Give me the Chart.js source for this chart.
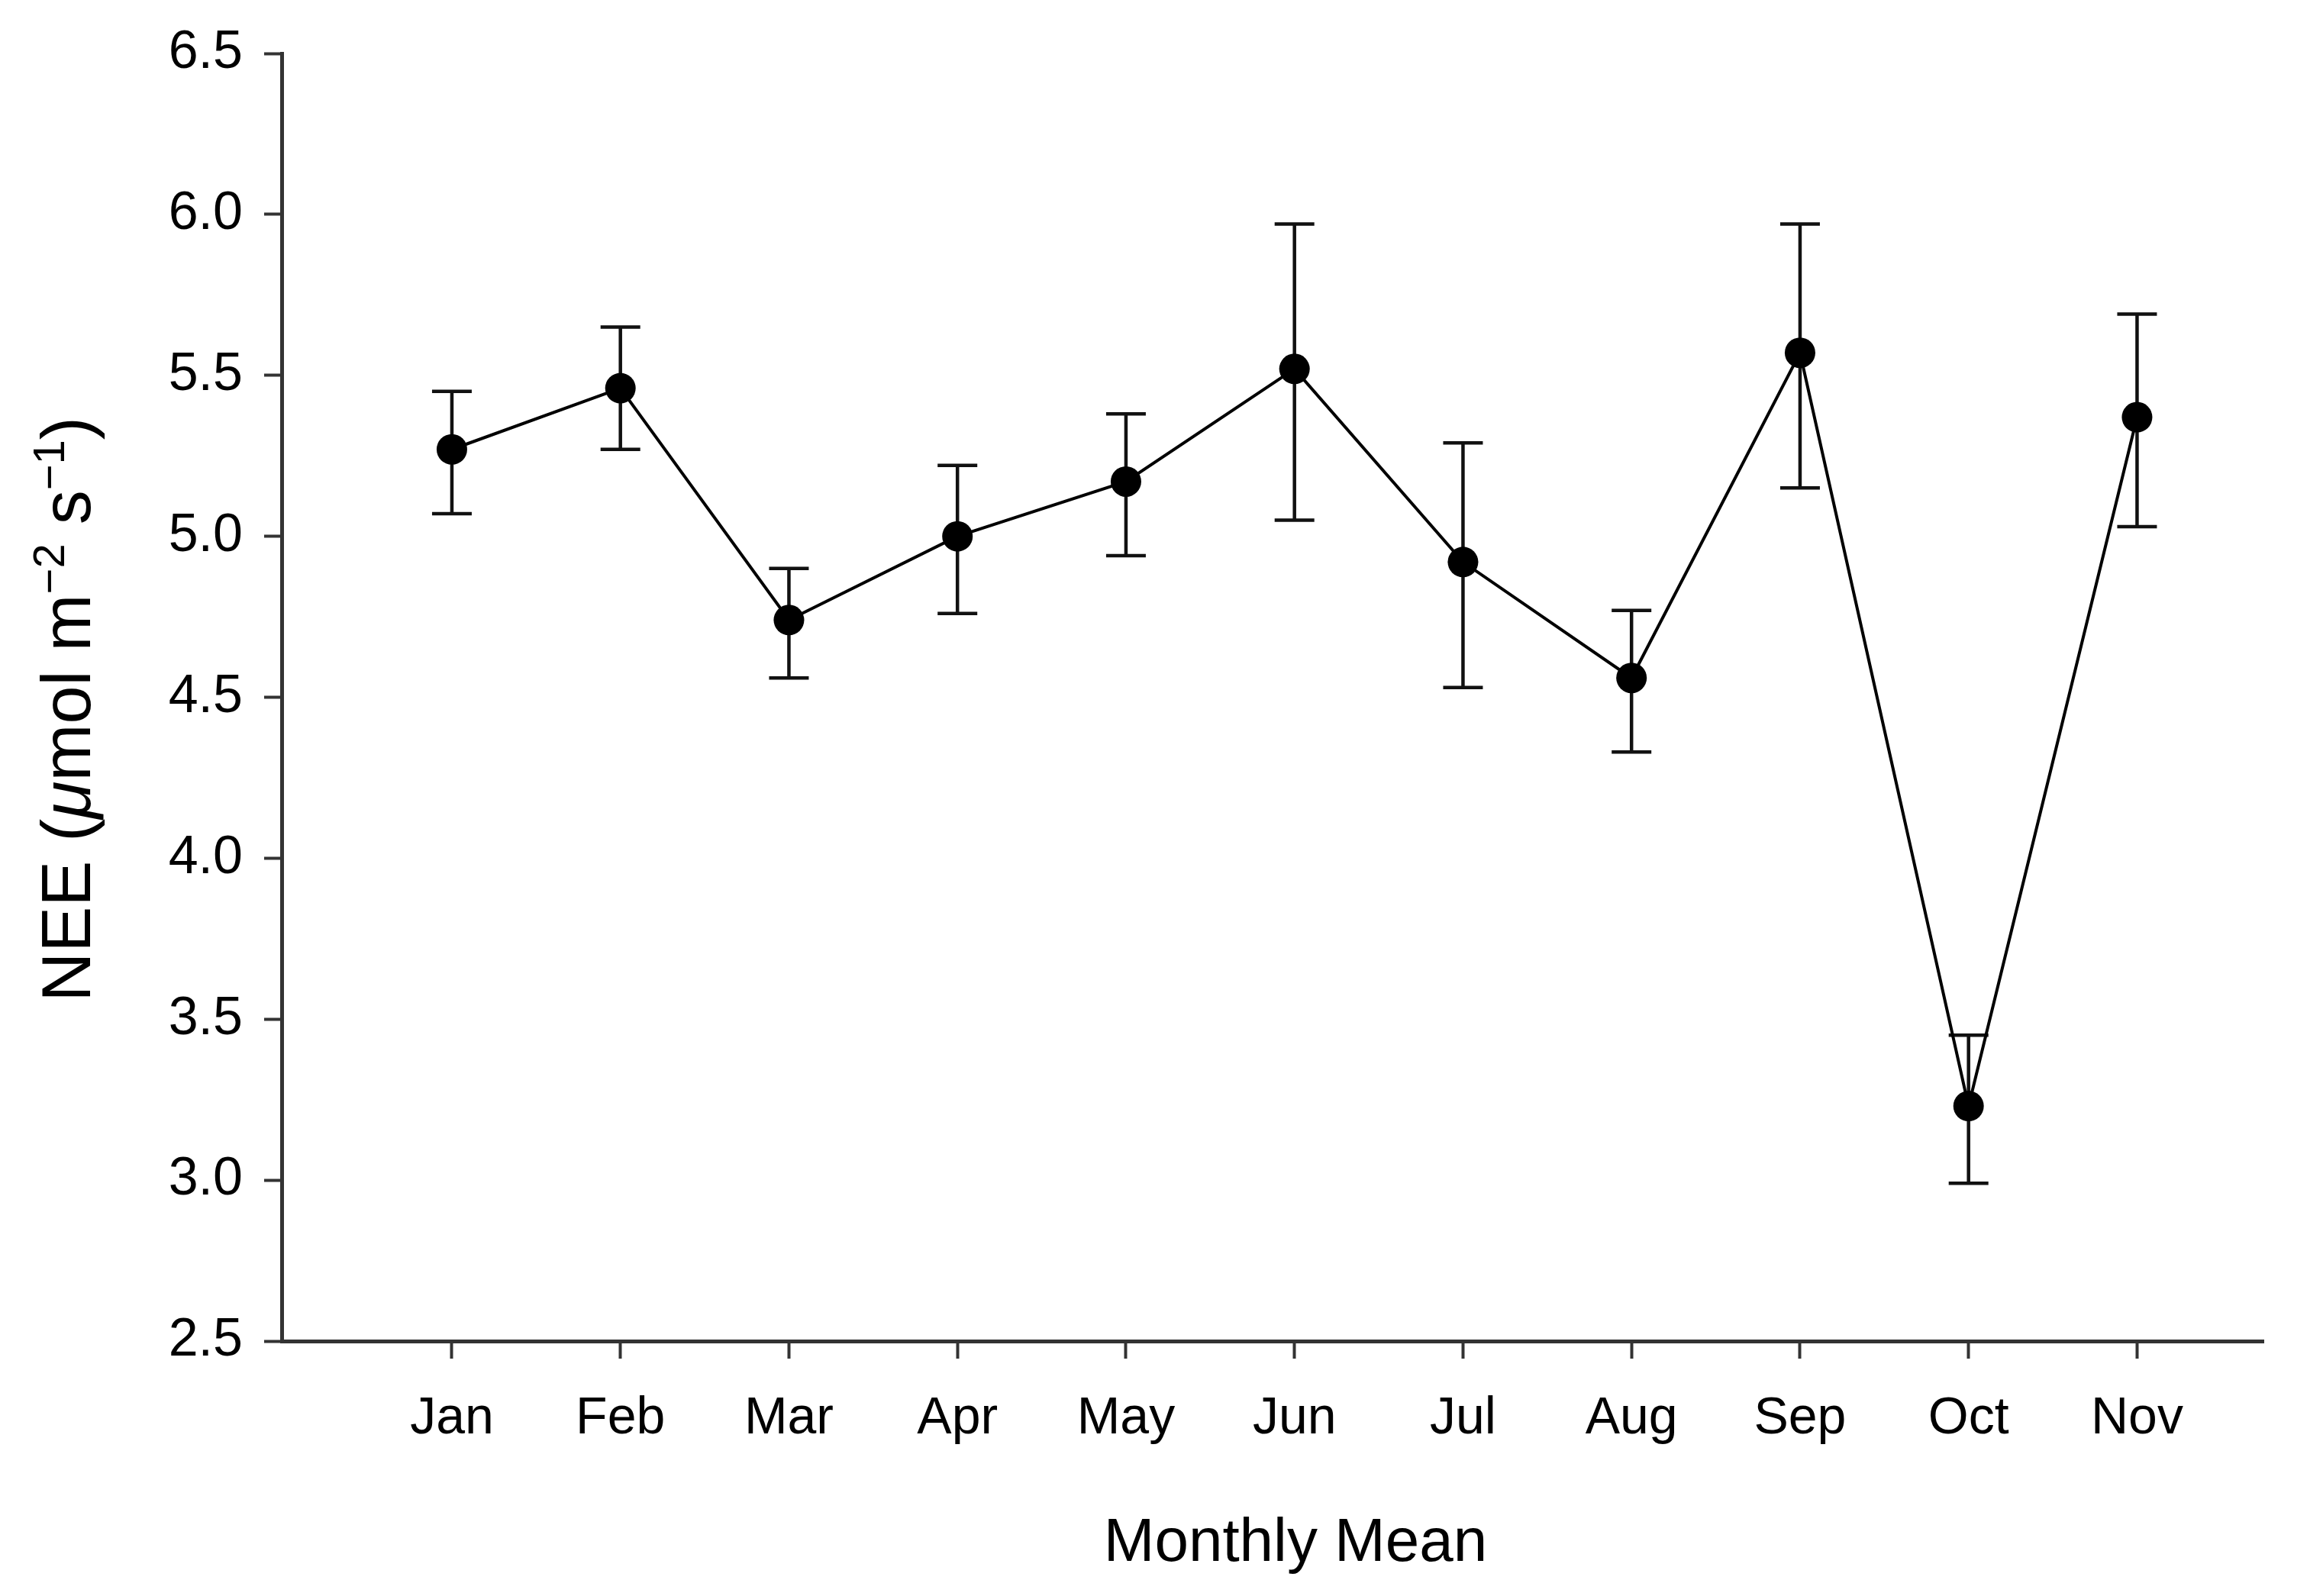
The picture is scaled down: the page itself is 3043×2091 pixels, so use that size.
<!DOCTYPE html>
<html>
<head>
<meta charset="utf-8">
<script src="https://cdn.jsdelivr.net/npm/chart.js@4.4.1/dist/chart.umd.min.js"></script>
<style>
  html, body { margin: 0; padding: 0; background: #ffffff; }
  #wrap { width: 3043px; height: 2091px; position: relative; }
</style>
</head>
<body>
<div id="wrap"><canvas id="c"></canvas></div>
<script>
// ---- data ----
const months   = ['Jan','Feb','Mar','Apr','May','Jun','Jul','Aug','Sep','Oct','Nov'];
const neeMean  = [5.27, 5.46, 4.74, 5.00, 5.17, 5.52, 4.92, 4.56, 5.57, 3.23, 5.37];
const neeUpper = [5.45, 5.65, 4.90, 5.22, 5.38, 5.97, 5.29, 4.77, 5.97, 3.45, 5.69];
const neeLower = [5.07, 5.27, 4.56, 4.76, 4.94, 5.05, 4.53, 4.33, 5.15, 2.99, 5.03];
const yTicks   = [2.5, 3.0, 3.5, 4.0, 4.5, 5.0, 5.5, 6.0, 6.5];
const xTitle   = 'Monthly Mean';

const FONT = "'Liberation Sans', Arial, Helvetica, sans-serif";
const INK = '#000000';
const AXIS = '#333333';

const points = neeMean.map((v, i) => ({ x: i, y: v }));

const errorBars = {
  id: 'errorBars',
  beforeDatasetsDraw(chart) {
    const { ctx, scales: { x, y } } = chart;
    ctx.save();
    ctx.strokeStyle = '#111111';
    ctx.lineWidth = 4.5;
    const half = 26;
    neeMean.forEach((m, i) => {
      const px = x.getPixelForValue(i);
      const yt = y.getPixelForValue(neeUpper[i]);
      const yb = y.getPixelForValue(neeLower[i]);
      ctx.beginPath();
      ctx.moveTo(px, yt); ctx.lineTo(px, yb);
      ctx.moveTo(px - half, yt); ctx.lineTo(px + half, yt);
      ctx.moveTo(px - half, yb); ctx.lineTo(px + half, yb);
      ctx.stroke();
    });
    ctx.restore();
  }
};

const titles = {
  id: 'titles',
  afterDraw(chart) {
    const { ctx, chartArea } = chart;
    ctx.save();
    ctx.fillStyle = INK;
    // x title
    ctx.font = `80px ${FONT}`;
    ctx.textAlign = 'center';
    ctx.textBaseline = 'alphabetic';
    ctx.fillText(xTitle, (chartArea.left + chartArea.right) / 2 + 30, 2045);

    // y title with italic mu and superscripts
    const big = 90, small = 58, rise = 34;
    const segs = [
      { t: 'NEE (', f: `${big}px ${FONT}`, dy: 0 },
      { t: '\u03BC', f: `italic ${big}px ${FONT}`, dy: 0 },
      { t: 'mol m', f: `${big}px ${FONT}`, dy: 0 },
      { t: '\u22122', f: `${small}px ${FONT}`, dy: -rise },
      { t: ' s', f: `${big}px ${FONT}`, dy: 0 },
      { t: '\u22121', f: `${small}px ${FONT}`, dy: -rise },
      { t: ')', f: `${big}px ${FONT}`, dy: 0 }
    ];
    let total = 0;
    segs.forEach(s => { ctx.font = s.f; s.w = ctx.measureText(s.t).width; total += s.w; });
    const cx = 118, cy = (chartArea.top + chartArea.bottom) / 2 + 16;
    ctx.translate(cx, cy);
    ctx.rotate(-Math.PI / 2);
    ctx.textAlign = 'left';
    ctx.textBaseline = 'alphabetic';
    let xx = -total / 2;
    segs.forEach(s => { ctx.font = s.f; ctx.fillText(s.t, xx, s.dy); xx += s.w; });
    ctx.restore();
  }
};

new Chart(document.getElementById('c'), {
  type: 'line',
  data: {
    datasets: [{
      data: points,
      borderColor: INK,
      borderWidth: 4,
      backgroundColor: INK,
      pointBackgroundColor: INK,
      pointBorderColor: INK,
      pointRadius: 20,
      pointBorderWidth: 0,
      tension: 0,
      fill: false
    }]
  },
  options: {
    responsive: true,
    maintainAspectRatio: false,
    devicePixelRatio: 1,
    animation: false,
    layout: { padding: { top: 70, right: 78, left: 0, bottom: 0 } },
    plugins: { legend: { display: false }, tooltip: { enabled: false } },
    scales: {
      x: {
        type: 'linear',
        min: -1.01,
        max: 10.75,
        afterFit(s) { s.height = 334; },
        afterBuildTicks(s) { s.ticks = months.map((_, i) => ({ value: i })); },
        grid: { drawOnChartArea: false, drawTicks: true, tickLength: 23, tickColor: AXIS, tickWidth: 4 },
        border: { display: true, color: AXIS, width: 5 },
        ticks: {
          autoSkip: false,
          maxRotation: 0,
          padding: 38,
          color: INK,
          font: { family: FONT, size: 68 },
          callback: v => months[v] ?? ''
        }
      },
      y: {
        min: 2.5,
        max: 6.5,
        afterFit(s) { s.width = 369; },
        afterBuildTicks(s) { s.ticks = yTicks.map(v => ({ value: v })); },
        grid: { drawOnChartArea: false, drawTicks: true, tickLength: 23, tickColor: AXIS, tickWidth: 4 },
        border: { display: true, color: AXIS, width: 5 },
        ticks: {
          padding: 28,
          color: INK,
          font: { family: FONT, size: 70 },
          callback: v => Number(v).toFixed(1)
        }
      }
    }
  },
  plugins: [errorBars, titles]
});
</script>
</body>
</html>
